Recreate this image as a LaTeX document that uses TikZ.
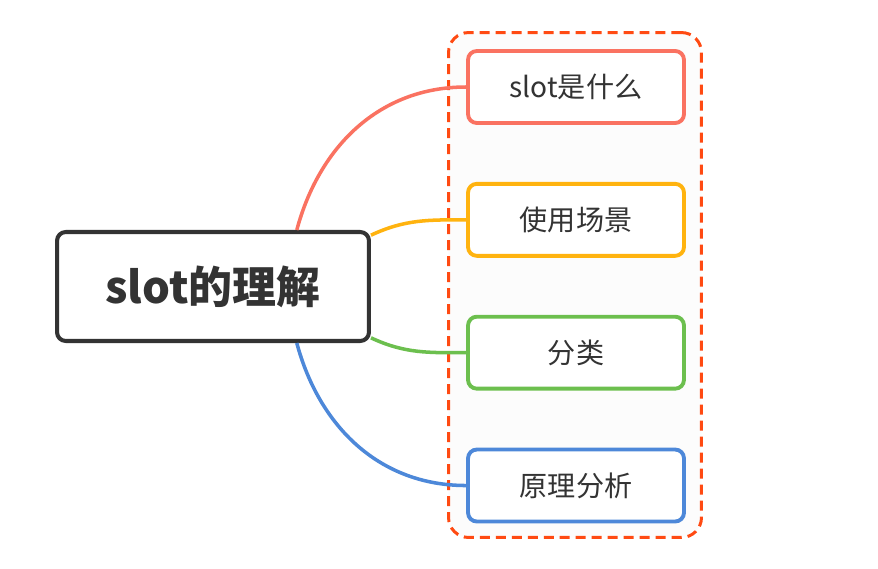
\documentclass[tikz,border=0pt]{standalone}
\usepackage{fontspec}
\setmainfont{Noto Sans CJK SC}
\usetikzlibrary{positioning,calc}
\definecolor{inkgrey}{HTML}{333333}
\definecolor{mapred}{HTML}{FA7261}
\definecolor{maporange}{HTML}{FFB30F}
\definecolor{mapgreen}{HTML}{6CBF4E}
\definecolor{mapblue}{HTML}{4D88D9}
\definecolor{groupline}{HTML}{FF4A12}
\tikzset{
  root/.style  = {draw=inkgrey, line width=2.3pt, rounded corners=5pt, fill=white,
                  minimum width=6.24cm, minimum height=2.18cm, inner sep=0pt,
                  text=inkgrey, font=\fontsize{25}{28}\selectfont\bfseries},
  topic/.style = {line width=2.2pt, rounded corners=5pt, fill=white,
                  minimum width=4.32cm, minimum height=1.44cm, inner sep=0pt,
                  text=inkgrey, font=\fontsize{16}{19}\selectfont},
  link/.style  = {line width=2pt},
  group/.style = {draw=groupline, line width=1.7pt, dash pattern=on 0.2cm off 0.12cm,
                  rounded corners=0.4cm, fill=black!1, minimum width=5.06cm,
                  minimum height=10.1cm, inner sep=0pt},
  node distance = 1.14cm,
}
\begin{document}
\begin{tikzpicture}[x=0.02cm, y=-0.02cm]
  \useasboundingbox[fill=white] (0,0) rectangle (878,568);
  \node[group] (box) at (575,285) {};
  \node[root] (slot) at (213,286.5) {slot的理解};
  \node[topic, draw=mapred] (what) at (576,87) {slot是什么};
  \node[topic, draw=maporange, below=of what] (scene) {使用场景};
  \node[topic, draw=mapgreen, below=of scene] (kind) {分类};
  \node[topic, draw=mapblue, below=of kind] (how) {原理分析};
  % branches
  \draw[link, mapred] (slot.34) to[out=75, in=180] (what.west);
  \draw[link, maporange] (slot.18) to[out=25, in=180] (scene.west);
  \draw[link, mapgreen] (slot.-18) to[out=-25, in=180] (kind.west);
  \draw[link, mapblue] (slot.-34) to[out=-75, in=180] (how.west);
\end{tikzpicture}
\end{document}
